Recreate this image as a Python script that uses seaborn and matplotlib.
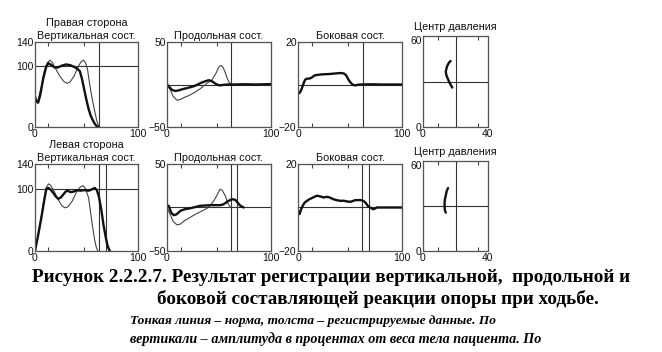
import matplotlib
matplotlib.use("Agg")
import matplotlib.pyplot as plt
import seaborn as sns
import pandas as pd

# ---------------- data ----------------
# Right side (row 1)
r_vert_norm_x = [0, 1.5, 3, 6, 9, 12, 14.5, 17, 20, 24, 28, 31, 34, 38, 42, 45, 47, 49, 51, 52.6, 54.5, 56.5, 58.5, 60, 62]
r_vert_norm_y = [46, 42, 44, 65, 92, 106, 110, 106, 96, 84, 75, 72, 74, 84, 100, 108, 110, 106, 95, 76, 56, 38, 22, 10, 0]
r_vert_pat_x = [0, 1.5, 3, 5, 8, 11, 13, 16, 19, 22, 26, 30, 34, 38, 41, 43.5, 45.5, 48, 50, 52, 54, 56.5, 58.5, 60, 61.5]
r_vert_pat_y = [50, 42, 40, 52, 80, 100, 105, 102, 98, 98, 101, 103, 102, 99, 96, 92, 80, 60, 44, 30, 19, 10, 4, 1.5, 0]

r_long_norm_x = [0, 3, 6, 9.6, 13, 17, 22, 27, 32, 38, 43, 47, 50, 52, 54, 56, 58, 60, 62]
r_long_norm_y = [0, -6, -14, -18.5, -17.5, -15, -12.5, -9, -5, 1, 5, 13, 21, 22.5, 20, 14, 7, 2, 0]
r_long_pat_x = [0, 3, 5, 8, 11, 15, 20, 26, 32, 36, 40, 43, 46.5, 49, 51, 54, 58, 65, 75, 85, 100]
r_long_pat_y = [0, -4, -6.5, -7.6, -7, -5.5, -4, -2, 1.5, 3.5, 5, 4, 1, -0.5, -1, -0.5, 0, 0, 0.3, 0, 0.5]

r_lat_pat_x = [0, 1.5, 3, 5, 6.5, 8, 11, 13, 16, 20, 24, 29, 34, 38, 42, 44.5, 46.5, 48, 50, 51.6, 53, 55, 58, 60, 70, 80, 90, 100]
r_lat_pat_y = [-4.3, -4, -2.7, 0, 2, 2.7, 2.8, 3.2, 4.3, 4.6, 4.8, 4.9, 5.1, 5.3, 5.4, 5.1, 4.2, 2.7, 1.2, 0.4, -0.2, -0.4, -0.1, 0, 0.1, 0, 0, 0]

r_cop_x = [17, 16, 14.8, 14, 14.3, 14.8, 15.6, 16.4, 17.2, 18]
r_cop_y = [43.5, 42.5, 40, 36.6, 34.5, 33, 31, 29, 27.5, 26]

# Left side (row 2)
l_vert_norm_x = [0, 3, 6, 9, 11, 13, 15, 18, 22, 26, 29, 32, 36, 40, 44, 47, 49, 52, 54, 56, 58, 59.5, 61]
l_vert_norm_y = [0, 25, 55, 85, 102, 108, 106, 98, 84, 73, 69.5, 71, 80, 94, 103, 105, 100, 86, 62, 38, 17, 6, 0]
l_vert_pat_x = [0, 3, 6, 9, 11, 13, 15, 18, 20, 22.6, 25, 28, 30, 32, 34, 36, 38, 41, 44, 48, 52, 55, 58, 60, 62, 64.5, 66.5, 68.7, 70.5, 72.6]
l_vert_pat_y = [0, 25, 52, 82, 100, 101.5, 99, 93, 88, 84, 86, 92, 96, 97, 95, 95, 96, 98, 97, 98, 97, 99, 101.5, 98, 88, 65, 42, 22, 8, 0]

l_long_norm_x = [0, 3, 6, 9.6, 13, 17, 22, 27, 32, 38.5, 42, 45, 48, 51, 53, 56, 58.5, 61]
l_long_norm_y = [0, -8, -16, -20, -19, -15, -11.5, -8, -5, -1, 3, 7.7, 14, 21, 20, 13.5, 5, 0]
l_long_pat_x = [0, 1.6, 4, 6.4, 9, 13, 17, 22, 27, 32, 37, 41.6, 46, 51, 54, 56, 59, 62.5, 65.7, 68, 70.5, 73.7]
l_long_pat_y = [0, 2, -5.8, -8.8, -8, -3.8, -2, -1, 0.5, 2, 2.3, 2.7, 2.7, 2.7, 3.5, 5, 7.5, 9.6, 8.8, 5.5, 2, 0]

l_lat_pat_x = [0, 1.6, 3, 5, 6.5, 9, 11, 14.5, 17, 19, 22, 25, 27, 30, 34, 37, 40, 44, 47, 50, 53, 55, 58, 61, 63, 65, 67, 69, 72.5, 76, 80, 90, 100]
l_lat_pat_y = [-1.5, -3, -0.8, 1.2, 2.3, 3.2, 3.8, 4.6, 5.2, 5.4, 5, 4.6, 4.9, 4.7, 3.8, 3.4, 3.1, 3.1, 2.8, 2.6, 3, 3.4, 3.4, 3.4, 3, 2.2, 0.8, 0, -0.8, 0, 0, 0, 0]

l_cop_x = [15.4, 14.6, 14, 13.6, 13.3, 13.3, 13.4, 14]
l_cop_y = [42, 40, 37, 35, 33, 29.4, 27.5, 25.6]

# reference (cross-hair) lines
vlines_row1 = [[62], [61.5], [62.5], [20]]
vlines_row2 = [[62, 69], [61.5, 67.5], [62, 68], [20]]
hlines = [100, 0, 0, 30]

ylims = [(0, 140), (-50, 50), (-20, 20), (0, 60)]
yticks = [[0, 100, 140], [-50, 50], [-20, 20], [0, 60]]
xlims = [(0, 100), (0, 100), (0, 100), (0, 40)]
xticks = [[0, 100], [0, 100], [0, 100], [0, 40]]

titles_row1 = ["Правая сторона\nВертикальная сост.", "Продольная сост.", "Боковая сост.", "Центр давления"]
titles_row2 = ["Левая сторона\nВертикальная сост.", "Продольная сост.", "Боковая сост.", "Центр давления"]

caption1 = "Рисунок 2.2.2.7. Результат регистрации вертикальной,  продольной и"
caption2 = "боковой составляющей реакции опоры при ходьбе."
caption3 = "Тонкая линия – норма, толста – регистрируемые данные. По"
caption4 = "вертикали – амплитуда в процентах от веса тела пациента. По"

# ---------------- figure ----------------
sns.set_style("white")
plt.rcParams["font.family"] = ["Liberation Sans", "DejaVu Sans"]

W, H = 662, 352
fig = plt.figure(figsize=(W / 100, H / 100), dpi=100)

xpix = [(35, 138), (167, 271), (298, 402), (423, 488)]
ypix = [[(42, 127), (42, 127), (42, 127), (36, 127)],
        [(164, 251), (164, 251), (164, 251), (161, 251)]]


def make_ax(col, row):
    x0, x1 = xpix[col]
    y0, y1 = ypix[row][col]
    return fig.add_axes([x0 / W, 1 - y1 / H, (x1 - x0) / W, (y1 - y0) / H])


def line(ax, x, y, thick):
    df = pd.DataFrame({"x": x, "y": y})
    sns.lineplot(data=df, x="x", y="y", ax=ax, sort=False, estimator=None,
                 color="#111111" if thick else "#444444",
                 linewidth=1.7 if thick else 0.8)


rows = [
    [[(r_vert_norm_x, r_vert_norm_y, False), (r_vert_pat_x, r_vert_pat_y, True)],
     [(r_long_norm_x, r_long_norm_y, False), (r_long_pat_x, r_long_pat_y, True)],
     [(r_lat_pat_x, r_lat_pat_y, True)],
     [(r_cop_x, r_cop_y, True)]],
    [[(l_vert_norm_x, l_vert_norm_y, False), (l_vert_pat_x, l_vert_pat_y, True)],
     [(l_long_norm_x, l_long_norm_y, False), (l_long_pat_x, l_long_pat_y, True)],
     [(l_lat_pat_x, l_lat_pat_y, True)],
     [(l_cop_x, l_cop_y, True)]],
]
vls = [vlines_row1, vlines_row2]
tls = [titles_row1, titles_row2]

for r in range(2):
    for c in range(4):
        ax = make_ax(c, r)
        for v in vls[r][c]:
            ax.axvline(v, color="#333333", linewidth=0.8, zorder=1)
        ax.axhline(hlines[c], color="#333333", linewidth=0.8, zorder=1)
        for (x, y, thick) in rows[r][c]:
            line(ax, x, y, thick)
        ax.set_xlim(*xlims[c])
        ax.set_ylim(*ylims[c])
        ax.set_xticks(xticks[c])
        ax.set_yticks(yticks[c])
        if c < 3:
            ax.set_xticks([13, 48], minor=True)
        else:
            ax.set_xticks([9, 34], minor=True)
        ax.tick_params(which="major", length=0, labelsize=7.5, pad=1, colors="#111111")
        ax.tick_params(axis="x", which="major", pad=1.5)
        ax.tick_params(which="minor", direction="in", length=3, top=True, bottom=True,
                       width=0.8, color="#444444")
        ax.set_xlabel("")
        ax.set_ylabel("")
        for s in ax.spines.values():
            s.set_color("#555555")
            s.set_linewidth(0.9)
            s.set_linestyle((0, (1.5, 0.6)))
        if c == 3:
            # the top label sits just below the frame's top edge, as in the reference
            ax.get_yticklabels()[-1].set_verticalalignment("top")
            ax.set_title(tls[r][c], fontsize=7.8, pad=4, color="#111111")
        else:
            ax.set_title(tls[r][c], fontsize=7.8, pad=2, color="#111111", linespacing=1.45)

fig.text(331 / W, 1 - 278 / H, caption1, ha="center", va="center",
         family="Liberation Serif", weight="bold", fontsize=13.8, color="black")
fig.text(157 / W, 1 - 299 / H, caption2, ha="left", va="center",
         family="Liberation Serif", weight="bold", fontsize=13.8, color="black")
fig.text(130 / W, 1 - 321 / H, caption3, ha="left", va="center",
         family="Liberation Serif", weight="bold", style="italic", fontsize=9.6, color="black")
fig.text(130 / W, 1 - 339 / H, caption4, ha="left", va="center",
         family="Liberation Serif", weight="bold", style="italic", fontsize=10.2, color="black")

fig.savefig("out.png", dpi=100)
